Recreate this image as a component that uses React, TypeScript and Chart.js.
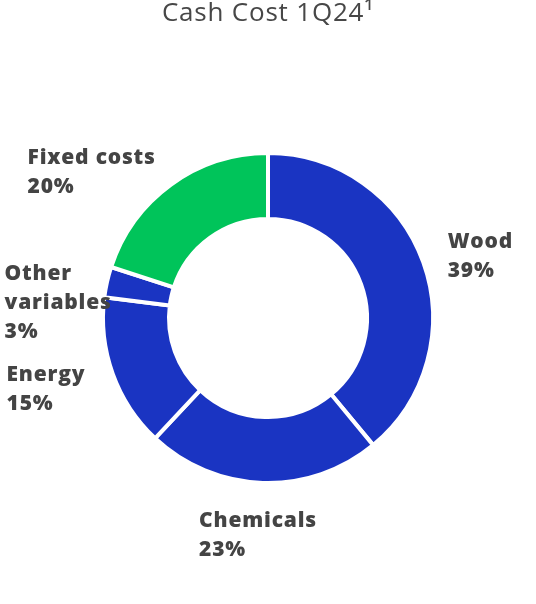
import React, { useEffect, useRef } from "react";
import { Chart, registerables } from "chart.js";

Chart.register(...registerables);

const TITLE = "Cash Cost 1Q24¹";
const categories = ["Wood", "Chemicals", "Energy", "Other variables", "Fixed costs"];
const labelLines = [["Wood"], ["Chemicals"], ["Energy"], ["Other", "variables"], ["Fixed costs"]];
const shares = [39, 23, 15, 3, 20];
const colors = ["#1a34c2", "#1a34c2", "#1a34c2", "#1a34c2", "#00c45a"];
// small manual adjustments of label blocks (label layout only)
const nudgeX = [0, -4, -3, 30, 0];
const nudgeY = [3, -2, 7, 27, 9];

const LABEL_FONT = '800 21px "Open Sans"';
const LINE_H = 29;
const LABEL_GAP = 26;

const spacing = {
  id: "spacing",
  beforeDraw(chart: any) {
    chart.ctx.letterSpacing = "0.8px";
  },
};

const outLabels = {
  id: "outLabels",
  afterDatasetsDraw(chart: any) {
    const meta = chart.getDatasetMeta(0);
    const ctx = chart.ctx;
    const data = chart.data.datasets[0].data as number[];
    ctx.save();
    ctx.letterSpacing = "0.8px";
    ctx.font = LABEL_FONT;
    ctx.fillStyle = "#444444";
    ctx.textBaseline = "middle";
    ctx.textAlign = "left";
    meta.data.forEach((arc: any, i: number) => {
      const p = arc.getProps(["x", "y", "startAngle", "endAngle", "outerRadius"], true);
      const mid = (p.startAngle + p.endAngle) / 2;
      const r = p.outerRadius + LABEL_GAP;
      const c = Math.cos(mid);
      const s = Math.sin(mid);
      const ax = p.x + c * r;
      const ay = p.y + s * r;
      const lines = [...labelLines[i], `${data[i]}%`];
      const bw = Math.max(...lines.map((l) => ctx.measureText(l).width));
      const bh = lines.length * LINE_H;
      let left: number;
      let top: number;
      if (Math.abs(c) < 0.35) {
        left = ax - bw / 2;
        top = s > 0 ? ay : ay - bh;
      } else {
        left = c > 0 ? ax : ax - bw;
        top = ay - bh / 2;
      }
      left += nudgeX[i];
      top += nudgeY[i];
      lines.forEach((l, j) => ctx.fillText(l, left, top + LINE_H * (j + 0.5)));
    });
    ctx.restore();
  },
};

export default function App() {
  const ref = useRef<HTMLCanvasElement>(null);
  useEffect(() => {
    if (!ref.current) return;
    const chart = new Chart(ref.current, {
      type: "doughnut",
      data: {
        labels: categories,
        datasets: [
          {
            data: shares,
            backgroundColor: colors,
            borderColor: "#ffffff",
            borderWidth: 4,
            hoverOffset: 0,
          },
        ],
      },
      options: {
        animation: false,
        responsive: true,
        maintainAspectRatio: false,
        cutout: "60%",
        layout: { padding: { top: 0, bottom: 119, left: 0, right: 0 } },
        plugins: {
          legend: { display: false },
          tooltip: { enabled: false },
          title: {
            display: true,
            text: TITLE,
            color: "#474747",
            font: { family: '"Open Sans"', size: 26, weight: "normal", lineHeight: 1.05 },
            padding: { top: 0, bottom: 123.7 },
          },
        },
      },
      plugins: [spacing, outLabels],
    });
    return () => chart.destroy();
  }, []);
  return (
    <div style={{ position: "absolute", left: 0, top: 0, width: 536, height: 604 }}>
      <canvas ref={ref} />
    </div>
  );
}
